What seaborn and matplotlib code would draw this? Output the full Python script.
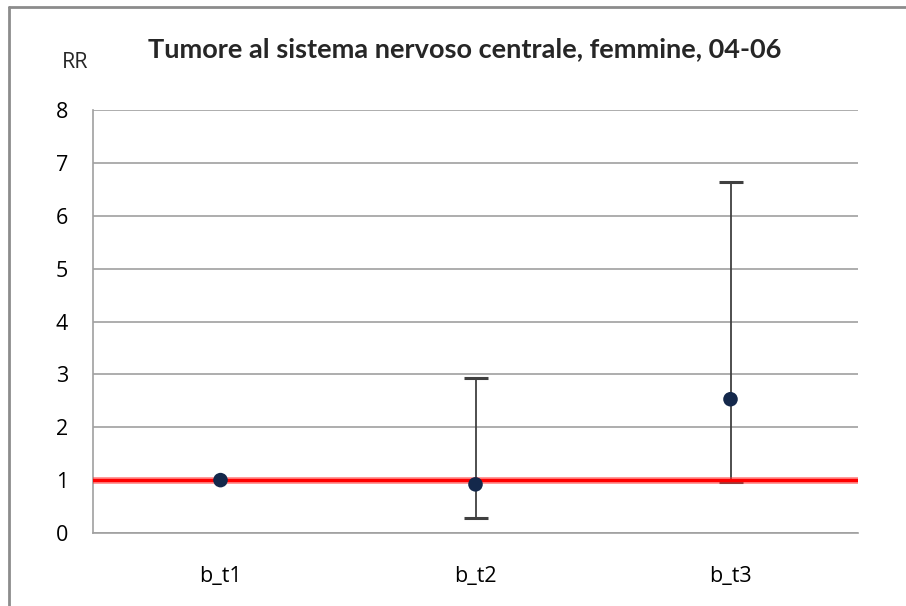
import matplotlib
matplotlib.use("Agg")
import matplotlib.pyplot as plt
import seaborn as sns
import numpy as np
import pandas as pd
from matplotlib.lines import Line2D

categories = ["b_t1", "b_t2", "b_t3"]
rr = [1.0, 0.92, 2.53]
lower = [np.nan, 0.28, 0.96]
upper = [np.nan, 2.93, 6.64]
yticks = [0, 1, 2, 3, 4, 5, 6, 7, 8]
title = "Tumore al sistema nervoso centrale, femmine, 04-06"
ylabel = "RR"

sns.set_style("white")
plt.rcParams['font.family'] = ['Open Sans', 'DejaVu Sans']

df = pd.DataFrame({"cat": categories, "rr": rr, "lo": lower, "hi": upper})

fig = plt.figure(figsize=(9.06, 6.06), dpi=100)
ax = fig.add_axes([93/906, 1-533/606, 765/906, 423/606])

xpos = np.arange(len(categories))
err = np.array([df.rr - df.lo, df.hi - df.rr])
eb = ax.errorbar(xpos, df.rr, yerr=err, fmt='none', ecolor='#404040',
                 elinewidth=1.3, capsize=8.5, capthick=2.2, zorder=3)
for cl in eb[1]:
    cl.set_color('#1f3050')

ax.axhline(1, color='#ff3333', lw=5, alpha=0.5, zorder=4)
ax.axhline(1, color='#ff0000', lw=2.5, zorder=4)

sns.scatterplot(data=df, x=xpos, y="rr", ax=ax, color='#14284b', s=110,
                edgecolor='none', zorder=5, legend=False)

ax.set_xlim(-0.5, 2.5)
ax.set_ylim(0, 8)
ax.set_yticks(yticks)
ax.set_yticklabels([str(t) for t in yticks])
ax.set_xticks(xpos)
ax.set_xticklabels(categories)
ax.yaxis.grid(True, color='#a0a0a0', lw=1.2)
ax.set_axisbelow(True)
ax.set_xlabel("")
ax.set_ylabel("")
for s in ["top", "right"]:
    ax.spines[s].set_visible(False)
for s in ["left", "bottom"]:
    ax.spines[s].set_color('#a0a0a0')
    ax.spines[s].set_linewidth(1.2)
ax.tick_params(axis='y', length=0, pad=18, labelsize=15.5, colors='#000000')
ax.tick_params(axis='x', length=0, pad=24, labelsize=15.5, colors='#000000')

fig.text(465/906, 1-49/606, title, ha='center', va='center', fontsize=19.5,
         fontweight='bold', family=['Lato', 'DejaVu Sans'])
fig.text(75/906, 1-63/606, ylabel, ha='center', va='center', fontsize=15.5)

# outer chart border (left and top visible)
fig.add_artist(Line2D([9/906, 9/906], [0, 1-7/606], transform=fig.transFigure, color='#8c8c8c', lw=2))
fig.add_artist(Line2D([9/906, 1.01], [1-7/606, 1-7/606], transform=fig.transFigure, color='#8c8c8c', lw=2))

fig.savefig("out.png", dpi=100)
